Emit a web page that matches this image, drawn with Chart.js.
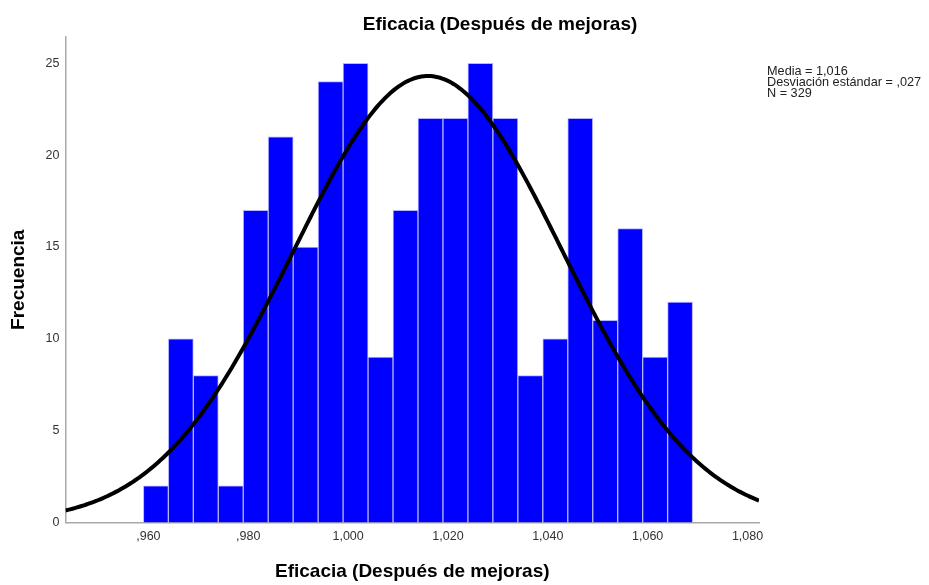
<!DOCTYPE html>
<html>
<head>
<meta charset="utf-8">
<title>Eficacia (Después de mejoras)</title>
<script src="https://cdn.jsdelivr.net/npm/chart.js@4/dist/chart.umd.min.js"></script>
<style>
  html, body { margin: 0; padding: 0; background: #ffffff; }
  #wrap { width: 929px; height: 585px; }
</style>
</head>
<body>
<div id="wrap"><canvas id="hist" width="929" height="585"></canvas></div>
<script>
// Histogram bins: midpoint of each class and its count
const binMidpoints = [0.9615, 0.9665, 0.9715, 0.9765, 0.9815, 0.9865, 0.9915, 0.9965,
                      1.0015, 1.0065, 1.0115, 1.0165, 1.0215, 1.0265, 1.0315, 1.0365,
                      1.0415, 1.0465, 1.0515, 1.0565, 1.0615, 1.0665];
const frequencies   = [2, 10, 8, 2, 17, 21, 15, 24, 25, 9, 17,
                       22, 22, 25, 22, 8, 10, 22, 11, 16, 9, 12];
const binWidth = 0.005;

// Summary statistics shown beside the plot (also define the normal curve)
const mean = 1.016;
const stdDev = 0.027;
const nObs = 329;
const statLines = ['Media = 1,016', 'Desviación estándar = ,027', 'N = 329'];

// Axis ranges and tick values
const xRange = [0.9434, 1.0823];
const yRange = [0, 26.43];
const xTickValues = [0.96, 0.98, 1.00, 1.02, 1.04, 1.06, 1.08];
const yTickValues = [0, 5, 10, 15, 20, 25];

const chartTitle = 'Eficacia (Después de mejoras)';
const xTitle = 'Eficacia (Después de mejoras)';
const yTitle = 'Frecuencia';

const FONT = "'Liberation Sans', Arial, Helvetica, sans-serif";

// Spanish-style decimal labels: 0.96 -> ",960", 1.02 -> "1,020"
function fmtDecimal(v) {
  let s = v.toFixed(3).replace('.', ',');
  if (s.startsWith('0,')) s = s.slice(1);
  return s;
}

// Normal density scaled to counts per bin
function normalCount(x) {
  const z = (x - mean) / stdDev;
  return nObs * binWidth * Math.exp(-0.5 * z * z) / (stdDev * Math.sqrt(2 * Math.PI));
}

const barPoints = binMidpoints.map((x, i) => ({ x: x, y: frequencies[i] }));
const curvePoints = [];
const steps = 300;
for (let i = 0; i <= steps; i++) {
  const x = xRange[0] + (xRange[1] - xRange[0]) * i / steps;
  curvePoints.push({ x: x, y: normalCount(x) });
}

// Chart heading and the statistics block
const textOverlay = {
  id: 'textOverlay',
  afterDraw(chart) {
    const ctx = chart.ctx;
    ctx.save();
    ctx.fillStyle = '#000000';
    ctx.font = 'bold 19px ' + FONT;
    ctx.textAlign = 'center';
    ctx.textBaseline = 'alphabetic';
    ctx.fillText(chartTitle, 500, 30);

    ctx.fillStyle = '#222222';
    ctx.font = '12.7px ' + FONT;
    ctx.textAlign = 'left';
    statLines.forEach((line, i) => ctx.fillText(line, 767, 74.5 + i * 11.3));
    ctx.restore();
  }
};

new Chart(document.getElementById('hist'), {
  type: 'bar',
  data: {
    datasets: [
      {
        type: 'line',
        data: curvePoints,
        borderColor: '#000000',
        borderWidth: 4,
        pointRadius: 0,
        tension: 0,
        fill: false,
        order: 0
      },
      {
        type: 'bar',
        data: barPoints,
        backgroundColor: '#0000ff',
        borderColor: '#b4b4ff',
        borderWidth: 1,
        borderSkipped: 'start',
        barPercentage: 1,
        categoryPercentage: 1,
        order: 1
      }
    ]
  },
  options: {
    responsive: false,
    animation: false,
    events: [],
    layout: { padding: { top: 37, right: 170, bottom: 0, left: 0 } },
    plugins: {
      legend: { display: false },
      tooltip: { enabled: false },
      title: { display: false }
    },
    scales: {
      x: {
        type: 'linear',
        min: xRange[0],
        max: xRange[1],
        offset: false,
        grid: { display: false, offset: false, drawTicks: false },
        border: { display: true, color: '#a8a8a8', width: 1.5 },
        afterBuildTicks: (axis) => { axis.ticks = xTickValues.map(v => ({ value: v })); },
        afterFit: (axis) => { axis.height = 62.5; },
        ticks: {
          autoSkip: false,
          maxRotation: 0,
          padding: 6.5,
          color: '#333333',
          font: { family: FONT, size: 12.5 },
          callback: (v) => fmtDecimal(v)
        },
        title: {
          display: true,
          text: xTitle,
          color: '#000000',
          font: { family: FONT, size: 19, weight: 'bold' },
          padding: { top: 0, bottom: 1.6 }
        }
      },
      y: {
        min: yRange[0],
        max: yRange[1],
        grid: { display: false, drawTicks: false },
        border: { display: true, color: '#a8a8a8', width: 1.5 },
        afterBuildTicks: (axis) => { axis.ticks = yTickValues.map(v => ({ value: v })); },
        afterFit: (axis) => { axis.width = 65.5; },
        ticks: {
          padding: 6,
          color: '#333333',
          font: { family: FONT, size: 12.5 },
          callback: (v) => String(v)
        },
        title: {
          display: true,
          text: yTitle,
          color: '#000000',
          font: { family: FONT, size: 19, weight: 'bold' },
          padding: { top: 7, bottom: 0 }
        }
      }
    }
  },
  plugins: [textOverlay]
});
</script>
</body>
</html>
